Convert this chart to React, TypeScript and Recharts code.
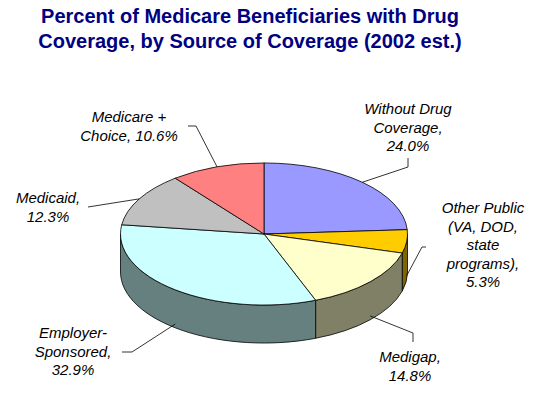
import React from "react";
import { PieChart, Pie } from "recharts";

// shares of beneficiaries, clockwise from 12 o'clock
const sources = [
  "Without Drug Coverage",
  "Other Public (VA, DOD, state programs)",
  "Medigap",
  "Employer-Sponsored",
  "Medicaid",
  "Medicare + Choice",
];
const shares = [24.0, 5.3, 14.8, 32.9, 12.3, 10.6];
const labelLines = [
  ["Without Drug", "Coverage,", "24.0%"],
  ["Other Public", "(VA, DOD,", "state", "programs),", "5.3%"],
  ["Medigap,", "14.8%"],
  ["Employer-", "Sponsored,", "32.9%"],
  ["Medicaid,", "12.3%"],
  ["Medicare +", "Choice, 10.6%"],
];

const topColors = ["#9999FF", "#FFCC00", "#FFFFCC", "#CCFFFF", "#C0C0C0", "#FF8080"];
const sideColors = ["#4D4D80", "#806600", "#808066", "#668080", "#606060", "#804040"];

// label placement relative to pie centre: text [x, first baseline], bend, end of leader
const labelLayout = [
  { text: [144, -120], bend: [144, -67], end: [144, -76] },
  { text: [219, -21], bend: [158, 13], end: [162, 13] },
  { text: [146, 128], bend: [149, 99], end: [149, 108] },
  { text: [-191, 104], bend: [-132, 118], end: [-142, 118] },
  { text: [-216, -31], bend: [-176, -27], end: [-176, -27] },
  { text: [-135, -112], bend: [-68, -108], end: [-76, -108] },
];

const data = sources.map((name, i) => ({ name, value: shares[i] }));

const RATIO = 0.495;
const DEPTH = 38;
const RAD = Math.PI / 180;
const LINE_H = 18.5;

function pt(cx: number, cy: number, rx: number, a: number, dy = 0) {
  return [cx + rx * Math.cos(a * RAD), cy - rx * RATIO * Math.sin(a * RAD) + dy];
}

function sliceIndex(props: any) {
  if (typeof props.index === "number") return props.index;
  const n = props.name ?? props.payload?.name;
  return Math.max(0, sources.indexOf(n));
}

function Slice3D(props: any) {
  const { cx, cy, outerRadius: rx, startAngle, endAngle } = props;
  const i = sliceIndex(props);
  const ry = rx * RATIO;
  const hi = Math.max(startAngle, endAngle);
  const lo = Math.min(startAngle, endAngle);

  const [x1, y1] = pt(cx, cy, rx, hi);
  const [x2, y2] = pt(cx, cy, rx, lo);
  const large = hi - lo > 180 ? 1 : 0;
  const top = `M${cx},${cy} L${x1},${y1} A${rx},${ry} 0 ${large} 1 ${x2},${y2} Z`;

  // front half of the disc is where sin < 0
  const sides: string[] = [];
  for (const k of [-360, 0, 360]) {
    const a = Math.min(hi, k);
    const b = Math.max(lo, k - 180);
    if (a - b > 0.01) {
      const [ax, ay] = pt(cx, cy, rx, a);
      const [bx, by] = pt(cx, cy, rx, b);
      sides.push(
        `M${ax},${ay} A${rx},${ry} 0 0 1 ${bx},${by} L${bx},${by + DEPTH} A${rx},${ry} 0 0 0 ${ax},${ay + DEPTH} Z`
      );
    }
  }

  return (
    <g>
      {sides.map((d, k) => (
        <path key={k} d={d} fill={sideColors[i]} stroke="#000" strokeWidth={0.8} />
      ))}
      <path d={top} fill={topColors[i]} stroke="#000" strokeWidth={0.8} />
    </g>
  );
}

function SliceLabel(props: any) {
  const { cx, cy, outerRadius: rx, midAngle } = props;
  const i = sliceIndex(props);
  const lay = labelLayout[i];
  const front = Math.sin(midAngle * RAD) < 0;
  const [ax, ay] = pt(cx, cy, rx, midAngle, front ? DEPTH * 0.9 : 0);
  const pts = [
    [ax, ay],
    [cx + lay.bend[0], cy + lay.bend[1]],
    [cx + lay.end[0], cy + lay.end[1]],
  ];
  const tx = cx + lay.text[0];
  const ty = cy + lay.text[1];
  return (
    <g>
      <polyline
        points={pts.map((p) => p.join(",")).join(" ")}
        fill="none"
        stroke="#000"
        strokeWidth={0.8}
      />
      <text
        x={tx}
        y={ty}
        textAnchor="middle"
        fontFamily="'Liberation Sans', Arial, sans-serif"
        fontStyle="italic"
        fontSize={15}
        fill="#000"
      >
        {labelLines[i].map((line, k) => (
          <tspan key={k} x={tx} y={ty + k * LINE_H}>
            {line}
          </tspan>
        ))}
      </text>
    </g>
  );
}

export default function App() {
  return (
    <div
      style={{
        position: "absolute",
        left: 0,
        top: 0,
        width: 543,
        height: 396,
        background: "#fff",
      }}
    >
      <div
        style={{
          position: "absolute",
          left: 0,
          top: 3.6,
          width: 500,
          textAlign: "center",
          fontFamily: "'Liberation Sans', Arial, sans-serif",
          fontWeight: "bold",
          fontSize: 20,
          lineHeight: "25px",
          color: "#000080",
        }}
      >
        Percent of Medicare Beneficiaries with Drug
        <br />
        Coverage, by Source of Coverage (2002 est.)
      </div>

      <PieChart width={543} height={396} margin={{ top: 0, right: 0, bottom: 0, left: 0 }}>
        <Pie
          data={data}
          dataKey="value"
          nameKey="name"
          cx={264}
          cy={234}
          outerRadius={143.5}
          startAngle={90}
          endAngle={-270}
          stroke="none"
          shape={Slice3D}
          activeShape={Slice3D}
          inactiveShape={Slice3D}
          label={SliceLabel}
          labelLine={false}
          isAnimationActive={false}
        />
      </PieChart>
    </div>
  );
}
